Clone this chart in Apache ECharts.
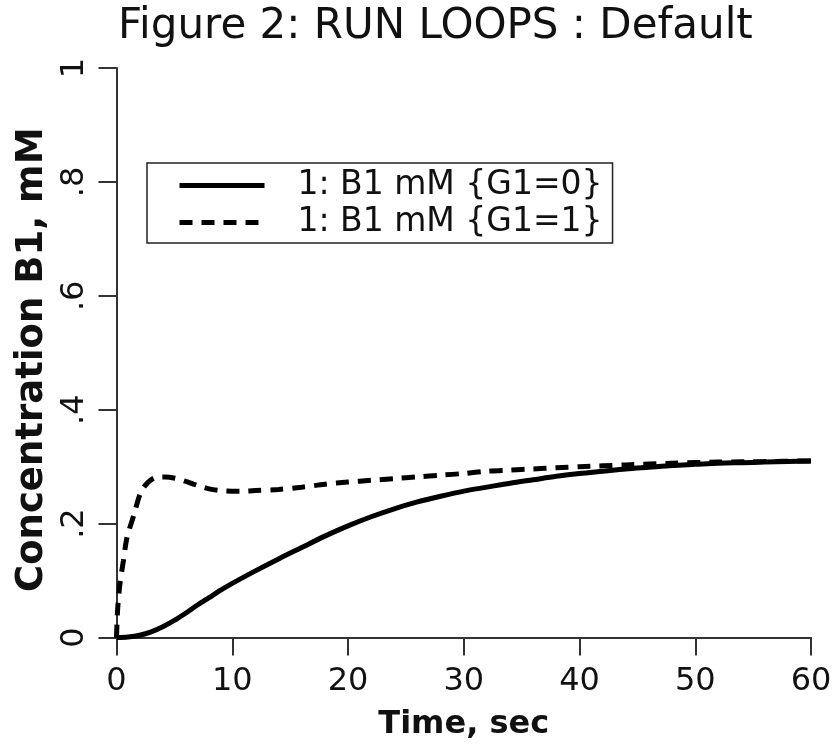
<!DOCTYPE html>
<html>
<head>
<meta charset="utf-8">
<script src="https://cdn.jsdelivr.net/npm/echarts@6/dist/echarts.min.js"></script>
<style>html,body{margin:0;padding:0;background:#fff}#c{width:837px;height:746px}</style>
</head>
<body>
<div id="c"></div>
<script>
const titleText = 'Figure 2: RUN LOOPS : Default';
const xName = 'Time, sec';
const yName = 'Concentration B1, mM';
const seriesNames = ['1: B1 mM {G1=0}', '1: B1 mM {G1=1}'];

const timeG0 = [0, 1, 2, 3, 4, 5, 6, 7, 8, 9, 10, 12, 14, 16, 18, 20, 22, 24, 26, 28, 30, 32, 34, 36, 38, 40, 42, 44, 46, 48, 50, 52, 54, 56, 58, 60];
const valueG0 = [0, 0.001, 0.004, 0.010, 0.019, 0.030, 0.043, 0.057, 0.070, 0.083, 0.095, 0.117, 0.138, 0.158, 0.178, 0.196, 0.212, 0.226, 0.238, 0.248, 0.257, 0.264, 0.271, 0.277, 0.283, 0.288, 0.292, 0.296, 0.299, 0.302, 0.304, 0.306, 0.307, 0.308, 0.309, 0.310];

const timeG1 = [0, 0.1, 0.3, 0.6, 0.9, 1.5, 2.1, 2.7, 3.4, 4.2, 5.2, 6, 7, 8, 9, 10, 11, 12, 14, 16, 18, 20, 22, 24, 26, 28, 30, 32, 34, 36, 38, 40, 44, 48, 52, 56, 60];
const valueG1 = [0, 0.050, 0.095, 0.135, 0.175, 0.215, 0.255, 0.272, 0.281, 0.282, 0.279, 0.274, 0.267, 0.261, 0.258, 0.257, 0.257, 0.258, 0.260, 0.264, 0.269, 0.273, 0.276, 0.279, 0.282, 0.285, 0.288, 0.292, 0.294, 0.296, 0.298, 0.300, 0.303, 0.306, 0.308, 0.309, 0.310];

const xTicks = {min: 0, max: 60, interval: 10};
const yTicks = {min: 0, max: 1, interval: 0.2};

const pairs = (t, v) => t.map((x, i) => [x, v[i]]);
const FONT = 'DejaVu Sans';

const chart = echarts.init(document.getElementById('c'), null, {renderer: 'canvas'});
chart.setOption({
  backgroundColor: '#fff',
  animation: false,
  title: {
    text: titleText, left: 113, top: 1,
    textStyle: {fontFamily: FONT, fontSize: 42, fontWeight: 'normal', color: '#111'}
  },
  legend: {
    orient: 'vertical', left: 147, top: 163,
    data: seriesNames,
    itemWidth: 85, itemHeight: 28, itemGap: 4,
    padding: [6, 10, 4, 30],
    borderColor: '#222', borderWidth: 1.5, backgroundColor: '#fff',
    itemStyle: {opacity: 0},
    lineStyle: {width: 5, color: '#000'},
    textStyle: {fontFamily: FONT, fontSize: 33, lineHeight: 33, color: '#111', padding: [0, 0, 0, 28]}
  },
  grid: {left: 116.5, right: 26, top: 68, bottom: 108.5, containLabel: false},
  xAxis: {
    type: 'value', min: xTicks.min, max: xTicks.max, interval: xTicks.interval,
    name: xName, nameLocation: 'middle', nameGap: 71,
    nameTextStyle: {fontFamily: FONT, fontSize: 32, fontWeight: 'bold', color: '#111'},
    axisLine: {lineStyle: {color: '#333', width: 2}},
    axisTick: {inside: false, length: 18, lineStyle: {color: '#333', width: 2}},
    axisLabel: {fontFamily: FONT, fontSize: 32, color: '#111', margin: 28},
    splitLine: {show: false}
  },
  yAxis: {
    type: 'value', min: yTicks.min, max: yTicks.max, interval: yTicks.interval,
    name: yName, nameLocation: 'middle', nameGap: 66, nameRotate: 90,
    nameTextStyle: {fontFamily: FONT, fontSize: 37, fontWeight: 'bold', color: '#111', padding: [0, 14, 0, 0]},
    axisLine: {show: true, lineStyle: {color: '#333', width: 2}},
    axisTick: {show: true, inside: false, length: 18, lineStyle: {color: '#333', width: 2}},
    axisLabel: {
      fontFamily: FONT, fontSize: 32, color: '#111', margin: 26, rotate: 90,
      formatter: v => (Math.abs(v) < 1e-9 ? '0' : (Math.abs(v - 1) < 1e-9 ? '1' : v.toFixed(1).replace(/^0\./, '.')))
    },
    splitLine: {show: false}
  },
  series: [
    {
      name: seriesNames[0], type: 'line', data: pairs(timeG0, valueG0),
      symbol: 'none', smooth: 0.3, itemStyle: {color: '#000'},
      lineStyle: {color: '#000', width: 5, type: 'solid'}
    },
    {
      name: seriesNames[1], type: 'line', data: pairs(timeG1, valueG1),
      symbol: 'none', smooth: 0.3, itemStyle: {color: '#000'},
      lineStyle: {color: '#000', width: 5, type: [13, 9]}
    }
  ]
});
</script>
</body>
</html>
